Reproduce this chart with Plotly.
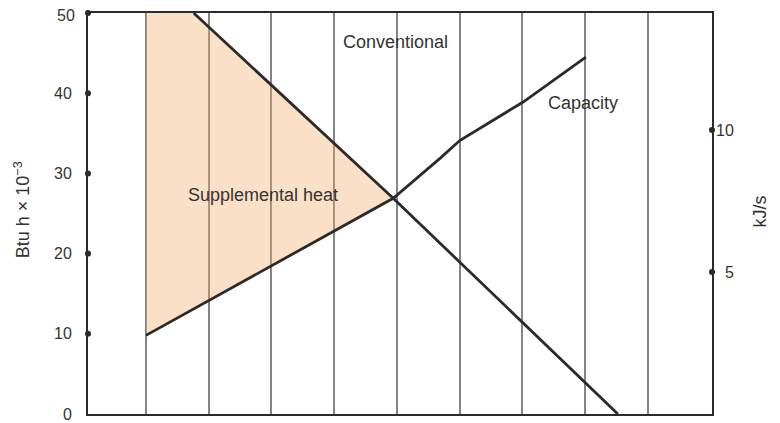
import plotly.graph_objects as go

# Data (x in arbitrary grid units, y in Btu/h x 10^-3)
conv_x = [1.76, 4.94, 8.52]
conv_y = [50, 26.9, 0]
cap_x = [1.0, 4.94, 5.69, 6.0, 7.01, 8.01]
cap_y = [9.8, 26.9, 31.9, 34.1, 38.9, 44.5]
supp_x = [1.0, 1.76, 4.94, 1.0, 1.0]
supp_y = [50, 50, 26.9, 9.8, 50]
grid_x = [1, 2, 3, 4, 5, 6, 7, 8, 9]
left_ticks = [0, 10, 20, 30, 40]
left_top_tick = 50
left_dots = [10, 20, 30, 40, 50]
right_ticks = [5, 10]
right_max = 50 / 3.54

X0, X1 = 0.076, 10.02
ink = "#2b2b2b"
txt = "#333333"
FONT = "Liberation Sans, Arial, sans-serif"

fig = go.Figure()
fig.add_trace(go.Scatter(x=supp_x, y=supp_y, mode="lines", fill="toself",
                         fillcolor="rgba(240,170,100,0.36)", line=dict(width=0),
                         hoverinfo="skip", showlegend=False))
fig.add_trace(go.Scatter(x=conv_x, y=conv_y, mode="lines",
                         line=dict(color=ink, width=2.8), showlegend=False))
fig.add_trace(go.Scatter(x=cap_x, y=cap_y, mode="lines",
                         line=dict(color=ink, width=2.8), showlegend=False))
# tick dots on axes
fig.add_trace(go.Scatter(x=[X0] * len(left_dots), y=left_dots, mode="markers",
                         marker=dict(color=ink, size=6), cliponaxis=False,
                         showlegend=False))
fig.add_trace(go.Scatter(x=[X1] * len(right_ticks), y=right_ticks, mode="markers",
                         marker=dict(color=ink, size=6), cliponaxis=False,
                         yaxis="y2", showlegend=False))

annotations = [
    dict(x=4.97, y=46.4, xref="x", yref="y", text="Conventional",
         showarrow=False, font=dict(size=18, color=txt)),
    dict(x=7.96, y=38.8, xref="x", yref="y", text="Capacity",
         showarrow=False, font=dict(size=18, color=txt)),
    dict(x=2.86, y=27.3, xref="x", yref="y", text="Supplemental heat",
         showarrow=False, font=dict(size=18, color=txt)),
    dict(x=-66 / 624, y=0.508, xref="paper", yref="paper", xanchor="center",
         text="Btu h × 10<sup>−3</sup>", textangle=-90, showarrow=False,
         font=dict(size=18, color=txt)),
    dict(x=1 + 48 / 624, y=0.505, xref="paper", yref="paper", xanchor="center",
         text="kJ/s", textangle=-90, showarrow=False,
         font=dict(size=18, color=txt)),
    dict(x=-11 / 624, y=left_top_tick, xref="paper", yref="y", xanchor="right",
         yanchor="middle", yshift=-2, text=str(left_top_tick), showarrow=False,
         font=dict(size=16, color=txt)),
]
for v in right_ticks:
    annotations.append(dict(x=1 + 24 / 624, y=v, xref="paper", yref="y2",
                            text=str(v), showarrow=False, xanchor="right",
                            font=dict(size=16, color=txt)))

fig.update_layout(
    width=780, height=423,
    margin=dict(l=80, r=76, t=5, b=17),
    paper_bgcolor="white", plot_bgcolor="white",
    font=dict(family=FONT, size=16, color=txt),
    xaxis=dict(range=[X0, X1], tickvals=grid_x, showticklabels=False,
               showgrid=True, gridcolor="#858585", gridwidth=1.5,
               showline=True, linecolor=ink, linewidth=2, mirror=True,
               zeroline=False, ticks="", automargin=False),
    yaxis=dict(range=[0, 50], tickvals=left_ticks, showgrid=False,
               showline=True, linecolor=ink, linewidth=2, mirror=True,
               zeroline=False, ticks="", ticklabelstandoff=11,
               automargin=False),
    yaxis2=dict(range=[0, right_max], tickvals=right_ticks, overlaying="y",
                side="right", showgrid=False, showline=False, zeroline=False,
                showticklabels=False, ticks="", automargin=False),
    annotations=annotations,
)

fig.write_html("out.html")
